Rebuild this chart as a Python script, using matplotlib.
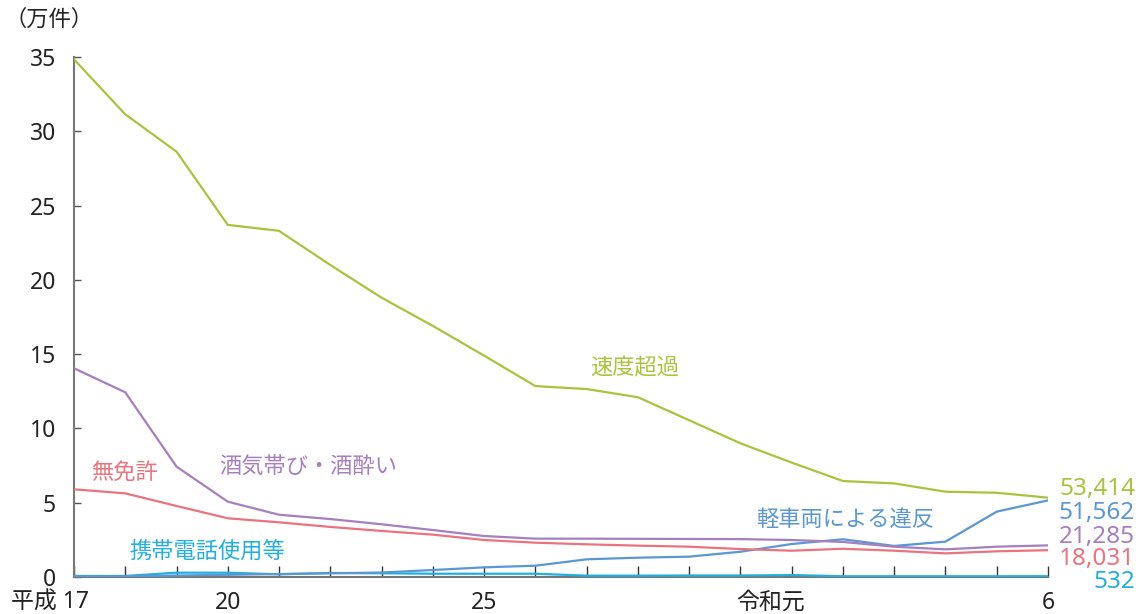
import matplotlib
matplotlib.use("Agg")
import matplotlib.pyplot as plt

plt.rcParams['font.family'] = ['Noto Sans', 'Noto Sans CJK JP', 'DejaVu Sans']

years = list(range(20))  # 平成17 (2005) .. 令和6 (2024)

speeding = [34.84, 31.14, 28.63, 23.7, 23.3, 21.0, 18.8, 16.9, 14.9, 12.85,
            12.65, 12.1, 10.55, 9.0, 7.7, 6.46, 6.3, 5.74, 5.67, 5.3414]
drunk = [14.05, 12.43, 7.43, 5.07, 4.19, 3.9, 3.55, 3.16, 2.76, 2.58,
         2.58, 2.57, 2.56, 2.55, 2.49, 2.36, 2.04, 1.86, 2.04, 2.1285]
unlicensed = [5.9, 5.63, 4.78, 3.95, 3.68, 3.37, 3.1, 2.85, 2.49, 2.31,
              2.2, 2.11, 2.04, 1.88, 1.77, 1.9, 1.77, 1.59, 1.73, 1.8031]
bicycle = [0.02, 0.03, 0.1, 0.15, 0.2, 0.25, 0.3, 0.47, 0.65, 0.76,
           1.19, 1.3, 1.37, 1.7, 2.22, 2.54, 2.09, 2.38, 4.4, 5.1562]
phone = [0.07, 0.07, 0.29, 0.29, 0.18, 0.27, 0.25, 0.22, 0.22, 0.22,
         0.09, 0.09, 0.1, 0.1, 0.13, 0.05, 0.05, 0.05, 0.05, 0.0532]

series_names = ["速度超過", "酒気帯び・酒酔い", "無免許", "軽車両による違反", "携帯電話使用等"]
end_labels = ["53,414", "21,285", "18,031", "51,562", "532"]

tick_labels = ["平成 17", "20", "25", "令和元", "6"]
tick_label_pos = [-0.47, 3, 8, 13.58, 19]

colors = {
    "速度超過": "#a9c43c",
    "酒気帯び・酒酔い": "#a57fbe",
    "無免許": "#e9737f",
    "軽車両による違反": "#5b97d3",
    "携帯電話使用等": "#20b0e0",
}

W, H = 1141, 614
fig = plt.figure(figsize=(W / 100, H / 100), dpi=100)
ax = fig.add_axes([74 / W, (H - 577) / H, (1048 - 74) / W, (577 - 57) / H])

data = [speeding, drunk, unlicensed, bicycle, phone]
order = [4, 3, 2, 1, 0]
for i in order:
    ax.plot(years, data[i], color=colors[series_names[i]], lw=1.6,
            solid_joinstyle='miter', zorder=3 + (4 - i))

ax.set_xlim(0, 19)
ax.set_ylim(0, 35)
ax.set_yticks([0, 5, 10, 15, 20, 25, 30, 35])
ax.set_xticks(years)
ax.set_xticklabels([])
ax.tick_params(axis='y', direction='in', length=5, width=1, color='#555555',
               labelsize=16.5, pad=13, labelcolor='#222222')
ax.tick_params(axis='x', direction='in', length=8, width=1, color='#333333')
for s in ['top', 'right']:
    ax.spines[s].set_visible(False)
for s in ['left', 'bottom']:
    ax.spines[s].set_color('#777777')
    ax.spines[s].set_linewidth(1.5)

for lab, pos in zip(tick_labels, tick_label_pos):
    ax.text(pos, -0.027, lab, transform=ax.get_xaxis_transform(), ha='center',
            va='top', fontsize=16.5, color='#222222')

# series labels
lab_pos = {
    "速度超過": (10.94, 14.0),
    "酒気帯び・酒酔い": (4.56, 7.34),
    "無免許": (0.98, 7.0),
    "携帯電話使用等": (2.6, 1.68),
    "軽車両による違反": (15.04, 3.84),
}
for name, (x, y) in lab_pos.items():
    ax.text(x, y, name, color=colors[name], fontsize=16, ha='center', va='center')

# end value labels
end_y = [486.5, 533.5, 555.5, 510, 578.5]
for i, name in enumerate(series_names):
    fig.text(1135 / W, 1 - end_y[i] / H, end_labels[i], color=colors[name],
             fontsize=17.5, ha='right', va='center_baseline')

fig.text(5 / W, 1 - 20 / H, "（万件）", fontsize=16, ha='left', va='center', color='#222222')

fig.savefig("out.png", dpi=100)
